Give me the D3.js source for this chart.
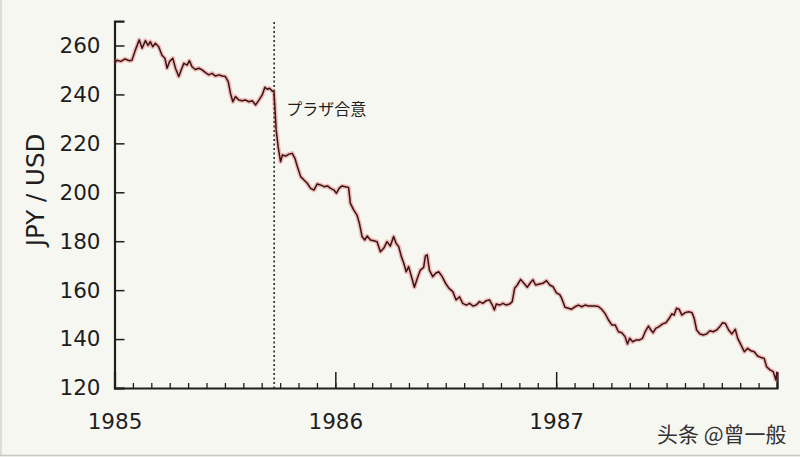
<!DOCTYPE html>
<html>
<head>
<meta charset="utf-8">
<title>JPY / USD 1985-1987</title>
<script src="https://cdn.jsdelivr.net/npm/d3@7"></script>
<style>
	body { margin: 0; background: #f7f7f2; }
	svg { display: block; }
	.axis text { font-family: "DejaVu Sans", sans-serif; font-size: 21.5px; fill: #1e1e1e; }
	.axis path, .axis line { stroke: #1e1e1e; }
</style>
</head>
<body>
<div id="chart"></div>
<script>

// dates as decimal years, values in JPY per USD
var dates = [
	1985.000, 1985.011, 1985.029, 1985.048, 1985.066, 1985.079, 1985.094, 1985.112, 1985.125, 1985.140,
	1985.152, 1985.162, 1985.173, 1985.185, 1985.200, 1985.215, 1985.228, 1985.238, 1985.249, 1985.264,
	1985.276, 1985.291, 1985.302, 1985.314, 1985.329, 1985.339, 1985.351, 1985.366, 1985.382, 1985.397,
	1985.412, 1985.427, 1985.442, 1985.457, 1985.473, 1985.488, 1985.502, 1985.515, 1985.525, 1985.536,
	1985.548, 1985.563, 1985.578, 1985.593, 1985.609, 1985.624, 1985.639, 1985.654, 1985.669, 1985.681,
	1985.692, 1985.702, 1985.714, 1985.722, 1985.727, 1985.732, 1985.741, 1985.752, 1985.760, 1985.775,
	1985.790, 1985.805, 1985.817, 1985.828, 1985.843, 1985.858, 1985.873, 1985.888, 1985.903, 1985.918,
	1985.933, 1985.949, 1985.964, 1985.979, 1985.994, 1986.005, 1986.017, 1986.030, 1986.045, 1986.060,
	1986.068, 1986.083, 1986.098, 1986.109, 1986.121, 1986.133, 1986.144, 1986.159, 1986.174, 1986.189,
	1986.204, 1986.219, 1986.234, 1986.249, 1986.264, 1986.275, 1986.287, 1986.299, 1986.310, 1986.321,
	1986.332, 1986.345, 1986.358, 1986.371, 1986.385, 1986.400, 1986.408, 1986.416, 1986.426, 1986.441,
	1986.454, 1986.468, 1986.484, 1986.499, 1986.514, 1986.532, 1986.547, 1986.562, 1986.577, 1986.593,
	1986.608, 1986.623, 1986.638, 1986.653, 1986.668, 1986.683, 1986.698, 1986.711, 1986.720, 1986.729,
	1986.744, 1986.759, 1986.774, 1986.789, 1986.801, 1986.812, 1986.824, 1986.839, 1986.854, 1986.869,
	1986.884, 1986.895, 1986.907, 1986.925, 1986.940, 1986.956, 1986.971, 1986.986, 1987.001, 1987.016,
	1987.025, 1987.040, 1987.055, 1987.070, 1987.085, 1987.101, 1987.116, 1987.131, 1987.146, 1987.161,
	1987.176, 1987.191, 1987.206, 1987.221, 1987.237, 1987.252, 1987.267, 1987.282, 1987.297, 1987.312,
	1987.323, 1987.333, 1987.346, 1987.361, 1987.376, 1987.391, 1987.403, 1987.418, 1987.429, 1987.439,
	1987.451, 1987.466, 1987.482, 1987.497, 1987.512, 1987.524, 1987.534, 1987.545, 1987.557, 1987.569,
	1987.584, 1987.600, 1987.615, 1987.625, 1987.636, 1987.651, 1987.666, 1987.681, 1987.696, 1987.711,
	1987.727, 1987.741, 1987.754, 1987.766, 1987.781, 1987.796, 1987.811, 1987.822, 1987.837, 1987.852,
	1987.867, 1987.882, 1987.897, 1987.912, 1987.927, 1987.942, 1987.953, 1987.968, 1987.983, 1987.995,
	1988.000
];

var rates = [
	252.8, 254.0, 253.5, 254.5, 253.8, 254.0, 258.0, 262.3, 258.9, 262.0,
	260.0, 261.6, 259.5, 260.9, 259.5, 256.0, 254.8, 250.7, 253.4, 254.8,
	250.7, 247.3, 250.0, 252.7, 252.0, 253.8, 251.3, 250.2, 250.7, 250.0,
	248.9, 248.0, 248.6, 247.5, 248.0, 247.5, 247.3, 245.2, 240.5, 237.0,
	239.1, 237.7, 237.4, 237.7, 237.0, 237.4, 235.7, 237.7, 239.8, 242.9,
	242.1, 242.5, 241.4, 241.1, 233.6, 225.5, 218.6, 212.5, 215.2, 214.8,
	215.6, 215.9, 213.9, 210.5, 206.4, 205.0, 203.7, 201.6, 200.9, 203.4,
	203.0, 202.3, 202.6, 201.6, 200.9, 199.6, 201.6, 202.6, 202.3, 202.0,
	195.5, 192.8, 190.7, 187.3, 181.9, 180.5, 182.1, 180.5, 180.2, 179.8,
	175.7, 177.1, 179.8, 178.0, 181.9, 179.2, 177.8, 173.7, 171.0, 167.5,
	169.6, 165.5, 161.2, 164.8, 168.2, 169.3, 174.0, 174.4, 168.2, 165.5,
	166.9, 167.5, 165.5, 162.8, 160.8, 159.4, 156.0, 157.3, 154.6, 153.9,
	154.6, 153.5, 153.9, 155.3, 154.6, 155.7, 156.0, 153.9, 151.9, 154.3,
	153.9, 154.6, 153.9, 154.3, 155.3, 160.8, 162.1, 164.4, 162.8, 161.2,
	163.1, 164.2, 162.1, 162.5, 162.8, 163.9, 162.1, 161.4, 158.9, 158.2,
	156.7, 153.0, 152.6, 152.2, 153.2, 153.9, 153.2, 153.9, 153.5, 153.5,
	153.5, 153.3, 152.2, 150.5, 147.8, 145.8, 145.8, 143.0, 142.6, 141.0,
	138.0, 140.3, 138.9, 139.6, 139.6, 140.3, 143.0, 145.3, 143.7, 142.6,
	144.4, 145.1, 146.2, 146.7, 148.5, 150.3, 149.8, 152.6, 152.2, 149.8,
	150.8, 151.2, 150.8, 148.5, 143.7, 142.1, 141.7, 142.1, 143.4, 143.0,
	143.7, 145.1, 146.7, 146.4, 143.7, 142.1, 144.0, 140.3, 137.6, 134.8,
	136.2, 135.2, 134.8, 133.1, 132.5, 132.1, 128.7, 127.4, 126.7, 123.3,
	126.7
];

var yearTicks = [1985, 1986, 1987, 1988];
var yearLabels = ["1985", "1986", "1987", ""];
var rateTicks = [120, 140, 160, 180, 200, 220, 240, 260];
var plazaDate = 1985.723;
var plazaLabel = "プラザ合意";
var yTitle = "JPY / USD";
var watermark = "头条 @曾一般";

var width = 800, height = 457;
var margin = { left: 114.5, right: 23, top: 22, bottom: 69 };

var svg = d3.select("#chart").append("svg")
	.attr("width", width)
	.attr("height", height);

svg.append("rect")
	.attr("width", width).attr("height", height)
	.attr("fill", "#f7f7f2");

// faint frame of the screenshot
svg.append("line").attr("x1", 1).attr("x2", 1).attr("y1", 0).attr("y2", 456)
	.attr("stroke", "#d4d4d0").attr("stroke-width", 1.5);
svg.append("line").attr("x1", 0).attr("x2", width).attr("y1", 455.5).attr("y2", 455.5)
	.attr("stroke", "#c8c8c4").attr("stroke-width", 1.5);

var x = d3.scaleLinear().domain([1985, 1988]).range([margin.left, width - margin.right]);
var y = d3.scaleLinear().domain([120, 270]).range([height - margin.bottom, height - margin.bottom - 150 * 48.93 / 20]);

var g = svg.append("g");

// minor monthly ticks
var months = d3.range(0, 37).map(function (i) { return 1985 + i / 12; });
g.append("g")
	.attr("class", "axis")
	.attr("transform", "translate(0," + y(120) + ")")
	.call(d3.axisBottom(x).tickValues(months).tickSize(-5).tickFormat(""))
	.call(function (s) { s.select(".domain").remove(); s.selectAll("line").attr("stroke-width", 1.3); });

// x axis
g.append("g")
	.attr("class", "axis")
	.attr("transform", "translate(0," + y(120) + ")")
	.call(d3.axisBottom(x).tickValues(yearTicks).tickSize(-16).tickPadding(26)
		.tickFormat(function (d, i) { return yearLabels[i]; }))
	.call(function (s) {
		s.select(".domain").attr("stroke-width", 2.2);
		s.selectAll("line").attr("stroke-width", 1.5);
	});

// y axis
g.append("g")
	.attr("class", "axis")
	.attr("transform", "translate(" + margin.left + ",0)")
	.call(d3.axisLeft(y).tickValues(rateTicks).tickSize(-10).tickPadding(14))
	.call(function (s) {
		s.select(".domain").attr("stroke-width", 2.2);
		s.selectAll("line").attr("stroke-width", 1.5);
	});

svg.append("text")
	.attr("transform", "translate(44,190) rotate(-90)")
	.attr("text-anchor", "middle")
	.attr("font-family", "DejaVu Sans, sans-serif")
	.attr("font-size", "24.5px")
	.attr("fill", "#1e1e1e")
	.text(yTitle);

// Plaza accord marker
svg.append("line")
	.attr("x1", x(plazaDate)).attr("x2", x(plazaDate))
	.attr("y1", margin.top).attr("y2", y(120))
	.attr("stroke", "#2a2a2a")
	.attr("stroke-width", 1.6)
	.attr("stroke-dasharray", "2,2.5");

svg.append("text")
	.attr("x", x(plazaDate) + 12)
	.attr("y", 115)
	.attr("font-family", "Noto Sans CJK JP, sans-serif")
	.attr("font-size", "16px")
	.attr("fill", "#1e1e1e")
	.text(plazaLabel);

// rate line
var line = d3.line()
	.x(function (d, i) { return x(dates[i]); })
	.y(function (d) { return y(d); });

svg.append("path")
	.datum(rates)
	.attr("d", line)
	.attr("fill", "none")
	.attr("stroke", "#e05050")
	.attr("stroke-opacity", 0.35)
	.attr("stroke-width", 4.5)
	.attr("stroke-linejoin", "round");

svg.append("path")
	.datum(rates)
	.attr("d", line)
	.attr("fill", "none")
	.attr("stroke", "#3a1414")
	.attr("stroke-width", 1.5)
	.attr("stroke-linejoin", "round");

svg.append("text")
	.attr("x", 657)
	.attr("y", 442)
	.attr("font-family", "Noto Sans CJK SC, sans-serif")
	.attr("font-size", "21px")
	.attr("fill", "#333")
	.text(watermark);

</script>
</body>
</html>
